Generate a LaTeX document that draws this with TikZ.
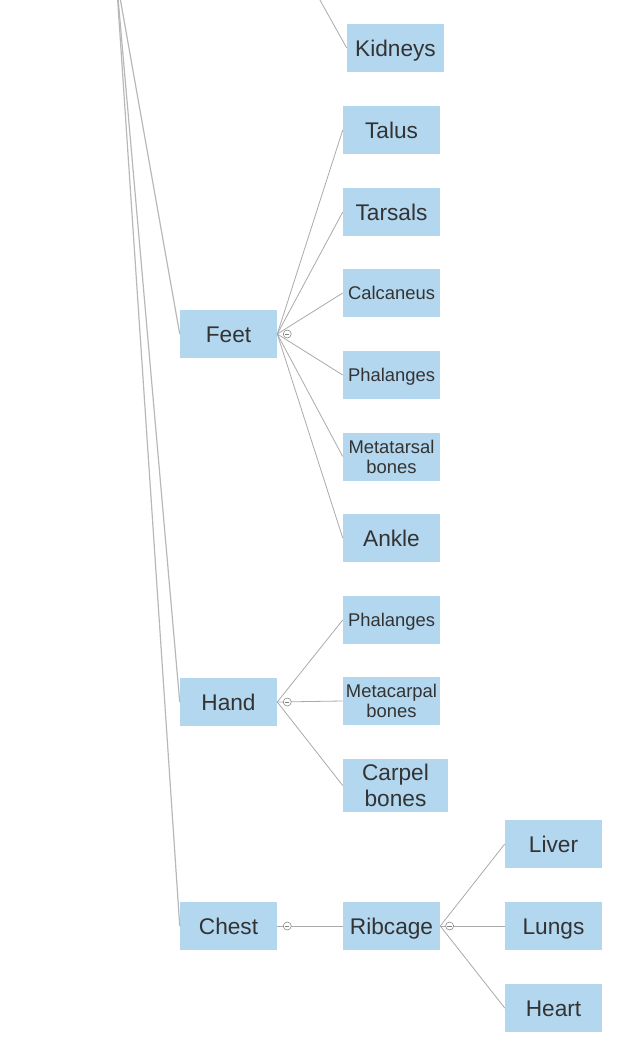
\documentclass[tikz,border=0pt]{standalone}
\usepackage{fontspec}
\setmainfont{Liberation Sans}
\definecolor{boxblue}{HTML}{B3D7EF}
\definecolor{txtgray}{HTML}{333333}
\definecolor{linegray}{HTML}{AAAAAA}
\definecolor{rootgray}{HTML}{B8B8B8}
\tikzset{
  boxbase/.style={fill=boxblue, draw=none, minimum width=72.75pt, minimum height=36pt,
    inner sep=0pt, text=txtgray, align=center},
  box/.style={boxbase, font=\fontsize{17}{19.5}\selectfont, text height=12.2pt, text depth=0pt},
  smallbox/.style={boxbase, font=\fontsize{13.8}{15}\selectfont, text height=9.9pt, text depth=0pt},
  multibox/.style={boxbase, font=\fontsize{13.8}{15}\selectfont},
  bigmultibox/.style={boxbase, font=\fontsize{17}{19.5}\selectfont},
  conn/.style={draw=linegray, line width=0.6pt},
  rootconn/.style={draw=rootgray, line width=0.9pt},
  toggle/.style={circle, draw=gray, fill=white, line width=0.4pt, minimum size=6pt, inner sep=0pt,
    path picture={\draw[gray, line width=0.4pt] ([xshift=-1.6pt]path picture bounding box.center) -- ([xshift=1.6pt]path picture bounding box.center);}}
}
\begin{document}
\begin{tikzpicture}[x=0.75pt,y=-0.75pt]
\useasboundingbox (0,0) rectangle (634,1042);
\clip (0,0) rectangle (634,1042);
\coordinate (root) at (116,-25);
\coordinate (kparent) at (292,-50);
% nodes
\node[box] (kidneys) at (395.5,48) {Kidneys};
\node[box] (talus) at (391.5,130) {Talus};
\node[box] (tarsals) at (391.5,212) {Tarsals};
\node[smallbox] (calcaneus) at (391.5,293) {Calcaneus};
\node[smallbox] (phal1) at (391.5,375) {Phalanges};
\node[multibox] (metatarsal) at (391.5,456.5) {Metatarsal\\bones};
\node[box] (ankle) at (391.5,538) {Ankle};
\node[box] (feet) at (228.5,334) {Feet};
\node[box] (hand) at (228.5,702) {Hand};
\node[smallbox] (phal2) at (391.5,620) {Phalanges};
\node[multibox] (metacarpal) at (391.5,701) {Metacarpal\\bones};
\node[bigmultibox, minimum width=78.75pt, minimum height=39.75pt] (carpel) at (395.5,785.5) {Carpel\\bones};
\node[box] (chest) at (228.5,926) {Chest};
\node[box] (ribcage) at (391.5,926) {Ribcage};
\node[box] (liver) at (553.5,844) {Liver};
\node[box] (lungs) at (553.5,926) {Lungs};
\node[box] (heart) at (553.5,1008) {Heart};
% connectors
\draw[rootconn] (root) -- (feet.west);
\draw[rootconn] (root) -- (hand.west);
\draw[rootconn] (root) -- (chest.west);
\draw[conn] (kparent) -- (kidneys.west);
\foreach \c in {talus,tarsals,calcaneus,phal1,metatarsal,ankle}
  \draw[conn] (feet.east) -- (\c.west);
\foreach \c in {phal2,metacarpal,carpel}
  \draw[conn] (hand.east) -- (\c.west);
\draw[conn] (chest.east) -- (ribcage.west);
\foreach \c in {liver,lungs,heart}
  \draw[conn] (ribcage.east) -- (\c.west);
% toggles
\node[toggle] (tfeet) at ([xshift=7.5pt]feet.east) {};
\node[toggle] (thand) at ([xshift=7.5pt]hand.east) {};
\node[toggle] (tchest) at ([xshift=7.5pt]chest.east) {};
\node[toggle] (trib) at ([xshift=7pt]ribcage.east) {};
\end{tikzpicture}
\end{document}
